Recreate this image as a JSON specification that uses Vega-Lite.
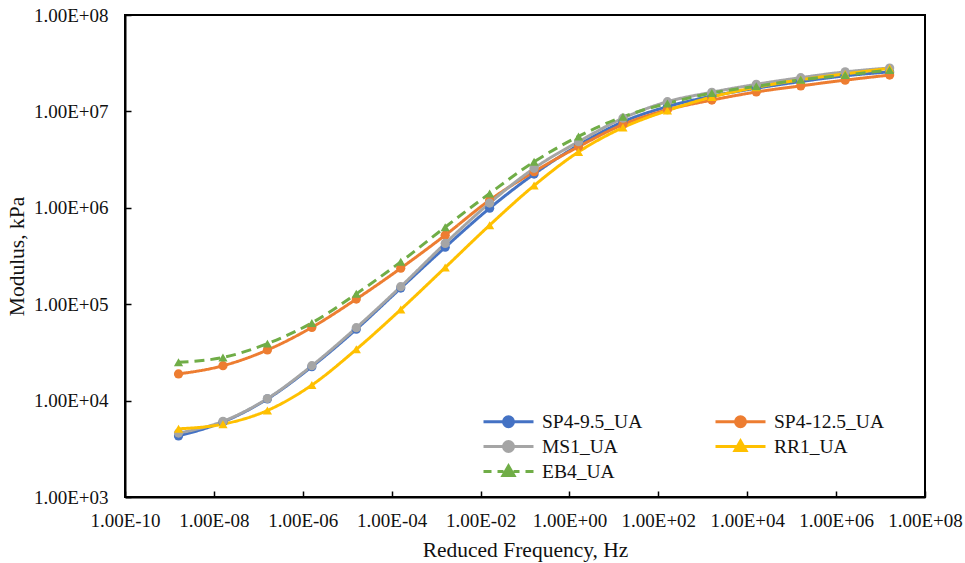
{
  "$schema": "https://vega.github.io/schema/vega-lite/v6.json",
  "width": 800,
  "height": 482,
  "autosize": "none",
  "padding": {"left": 125, "top": 15, "right": 40, "bottom": 66},
  "background": "white",
  "config": {
    "view": {"stroke": "#000000", "strokeWidth": 2},
    "font": "Liberation Serif",
    "axis": {
      "grid": false,
      "domainColor": "#000000",
      "domainWidth": 2,
      "tickColor": "#000000",
      "tickWidth": 1.5,
      "tickSize": -6,
      "labelFont": "Liberation Serif",
      "labelFontSize": 19,
      "labelColor": "#111111",
      "labelOverlap": false,
      "labelFlush": false,
      "titleFont": "Liberation Serif",
      "titleFontSize": 21.5,
      "titleFontWeight": "normal",
      "titleColor": "#111111"
    }
  },
  "data": {
    "values": [
      {"series": "SP4-9.5_UA", "freq": 1.6e-9, "modulus": 4300},
      {"series": "SP4-9.5_UA", "freq": 1.6e-8, "modulus": 6000},
      {"series": "SP4-9.5_UA", "freq": 1.6e-7, "modulus": 10400},
      {"series": "SP4-9.5_UA", "freq": 1.6e-6, "modulus": 22500},
      {"series": "SP4-9.5_UA", "freq": 1.6e-5, "modulus": 55000},
      {"series": "SP4-9.5_UA", "freq": 1.6e-4, "modulus": 147000},
      {"series": "SP4-9.5_UA", "freq": 1.6e-3, "modulus": 390000},
      {"series": "SP4-9.5_UA", "freq": 1.6e-2, "modulus": 990000},
      {"series": "SP4-9.5_UA", "freq": 1.6e-1, "modulus": 2240000},
      {"series": "SP4-9.5_UA", "freq": 1.6, "modulus": 4470000},
      {"series": "SP4-9.5_UA", "freq": 16, "modulus": 7800000},
      {"series": "SP4-9.5_UA", "freq": 160, "modulus": 11200000},
      {"series": "SP4-9.5_UA", "freq": 1600, "modulus": 14400000},
      {"series": "SP4-9.5_UA", "freq": 16000, "modulus": 17400000},
      {"series": "SP4-9.5_UA", "freq": 160000, "modulus": 20400000},
      {"series": "SP4-9.5_UA", "freq": 1.6e6, "modulus": 23400000},
      {"series": "SP4-9.5_UA", "freq": 1.6e7, "modulus": 25700000},

      {"series": "SP4-12.5_UA", "freq": 1.6e-9, "modulus": 18900},
      {"series": "SP4-12.5_UA", "freq": 1.6e-8, "modulus": 23000},
      {"series": "SP4-12.5_UA", "freq": 1.6e-7, "modulus": 33500},
      {"series": "SP4-12.5_UA", "freq": 1.6e-6, "modulus": 57500},
      {"series": "SP4-12.5_UA", "freq": 1.6e-5, "modulus": 113000},
      {"series": "SP4-12.5_UA", "freq": 1.6e-4, "modulus": 236000},
      {"series": "SP4-12.5_UA", "freq": 1.6e-3, "modulus": 520000},
      {"series": "SP4-12.5_UA", "freq": 1.6e-2, "modulus": 1200000},
      {"series": "SP4-12.5_UA", "freq": 1.6e-1, "modulus": 2370000},
      {"series": "SP4-12.5_UA", "freq": 1.6, "modulus": 4300000},
      {"series": "SP4-12.5_UA", "freq": 16, "modulus": 7300000},
      {"series": "SP4-12.5_UA", "freq": 160, "modulus": 10400000},
      {"series": "SP4-12.5_UA", "freq": 1600, "modulus": 13100000},
      {"series": "SP4-12.5_UA", "freq": 16000, "modulus": 15900000},
      {"series": "SP4-12.5_UA", "freq": 160000, "modulus": 18400000},
      {"series": "SP4-12.5_UA", "freq": 1.6e6, "modulus": 21100000},
      {"series": "SP4-12.5_UA", "freq": 1.6e7, "modulus": 23800000},

      {"series": "MS1_UA", "freq": 1.6e-9, "modulus": 4600},
      {"series": "MS1_UA", "freq": 1.6e-8, "modulus": 6100},
      {"series": "MS1_UA", "freq": 1.6e-7, "modulus": 10500},
      {"series": "MS1_UA", "freq": 1.6e-6, "modulus": 23000},
      {"series": "MS1_UA", "freq": 1.6e-5, "modulus": 57000},
      {"series": "MS1_UA", "freq": 1.6e-4, "modulus": 152000},
      {"series": "MS1_UA", "freq": 1.6e-3, "modulus": 427000},
      {"series": "MS1_UA", "freq": 1.6e-2, "modulus": 1120000},
      {"series": "MS1_UA", "freq": 1.6e-1, "modulus": 2570000},
      {"series": "MS1_UA", "freq": 1.6, "modulus": 4850000},
      {"series": "MS1_UA", "freq": 16, "modulus": 8500000},
      {"series": "MS1_UA", "freq": 160, "modulus": 12600000},
      {"series": "MS1_UA", "freq": 1600, "modulus": 15800000},
      {"series": "MS1_UA", "freq": 16000, "modulus": 19100000},
      {"series": "MS1_UA", "freq": 160000, "modulus": 22400000},
      {"series": "MS1_UA", "freq": 1.6e6, "modulus": 25700000},
      {"series": "MS1_UA", "freq": 1.6e7, "modulus": 28200000},

      {"series": "RR1_UA", "freq": 1.6e-9, "modulus": 5100},
      {"series": "RR1_UA", "freq": 1.6e-8, "modulus": 5700},
      {"series": "RR1_UA", "freq": 1.6e-7, "modulus": 7900},
      {"series": "RR1_UA", "freq": 1.6e-6, "modulus": 14500},
      {"series": "RR1_UA", "freq": 1.6e-5, "modulus": 34000},
      {"series": "RR1_UA", "freq": 1.6e-4, "modulus": 88000},
      {"series": "RR1_UA", "freq": 1.6e-3, "modulus": 240000},
      {"series": "RR1_UA", "freq": 1.6e-2, "modulus": 660000},
      {"series": "RR1_UA", "freq": 1.6e-1, "modulus": 1700000},
      {"series": "RR1_UA", "freq": 1.6, "modulus": 3800000},
      {"series": "RR1_UA", "freq": 16, "modulus": 6800000},
      {"series": "RR1_UA", "freq": 160, "modulus": 10200000},
      {"series": "RR1_UA", "freq": 1600, "modulus": 14100000},
      {"series": "RR1_UA", "freq": 16000, "modulus": 17800000},
      {"series": "RR1_UA", "freq": 160000, "modulus": 21300000},
      {"series": "RR1_UA", "freq": 1.6e6, "modulus": 24500000},
      {"series": "RR1_UA", "freq": 1.6e7, "modulus": 28000000},

      {"series": "EB4_UA", "freq": 1.6e-9, "modulus": 25000},
      {"series": "EB4_UA", "freq": 1.6e-8, "modulus": 28000},
      {"series": "EB4_UA", "freq": 1.6e-7, "modulus": 39000},
      {"series": "EB4_UA", "freq": 1.6e-6, "modulus": 64000},
      {"series": "EB4_UA", "freq": 1.6e-5, "modulus": 128000},
      {"series": "EB4_UA", "freq": 1.6e-4, "modulus": 275000},
      {"series": "EB4_UA", "freq": 1.6e-3, "modulus": 630000},
      {"series": "EB4_UA", "freq": 1.6e-2, "modulus": 1410000},
      {"series": "EB4_UA", "freq": 1.6e-1, "modulus": 3000000},
      {"series": "EB4_UA", "freq": 1.6, "modulus": 5500000},
      {"series": "EB4_UA", "freq": 16, "modulus": 8800000},
      {"series": "EB4_UA", "freq": 160, "modulus": 12100000},
      {"series": "EB4_UA", "freq": 1600, "modulus": 15500000},
      {"series": "EB4_UA", "freq": 16000, "modulus": 18200000},
      {"series": "EB4_UA", "freq": 160000, "modulus": 21300000},
      {"series": "EB4_UA", "freq": 1.6e6, "modulus": 23800000},
      {"series": "EB4_UA", "freq": 1.6e7, "modulus": 26900000}
    ]
  },
  "encoding": {
    "x": {
      "field": "freq",
      "type": "quantitative",
      "scale": {"type": "log", "domain": [1e-10, 1e8], "nice": false},
      "axis": {
        "title": "Reduced Frequency, Hz",
        "values": [1e-10, 1e-8, 1e-6, 1e-4, 1e-2, 1, 100, 10000, 1000000, 100000000],
        "labelExpr": "'1.00E' + (round(log(datum.value)/LN10) < 0 ? '-' : '+') + (abs(round(log(datum.value)/LN10)) < 10 ? '0' : '') + abs(round(log(datum.value)/LN10))",
        "labelPadding": 20,
        "titlePadding": 9
      }
    },
    "y": {
      "field": "modulus",
      "type": "quantitative",
      "scale": {"type": "log", "domain": [1000, 100000000], "nice": false},
      "axis": {
        "title": "Modulus, kPa",
        "values": [1000, 10000, 100000, 1000000, 10000000, 100000000],
        "labelExpr": "'1.00E' + (round(log(datum.value)/LN10) < 0 ? '-' : '+') + (abs(round(log(datum.value)/LN10)) < 10 ? '0' : '') + abs(round(log(datum.value)/LN10))",
        "labelPadding": 23,
        "titlePadding": 5
      }
    }
  },
  "layer": [
    {
      "mark": {"type": "line", "interpolate": "monotone", "strokeWidth": 3},
      "encoding": {
        "color": {
          "field": "series",
          "type": "nominal",
          "scale": {
            "domain": ["SP4-9.5_UA", "MS1_UA", "EB4_UA", "SP4-12.5_UA", "RR1_UA"],
            "range": ["#4472C4", "#A5A5A5", "#70AD47", "#ED7D31", "#FFC000"]
          },
          "legend": {
            "title": null,
            "orient": "none",
            "legendX": 372,
            "legendY": 395,
            "columns": 2,
            "columnPadding": 66,
            "rowPadding": 2,
            "padding": 0,
            "symbolSize": 400,
            "symbolStrokeWidth": 3,
            "labelOffset": 22,
            "labelFont": "Liberation Serif",
            "labelFontSize": 19.5,
            "labelColor": "#111111",
            "labelLimit": 200,
            "encode": {
              "symbols": {
                "update": {
                  "shape": {"signal": "datum.value === 'EB4_UA' ? 'M-2.5,0H-1.7M-1.1,0H-0.5M0.5,0H1.1M1.7,0H2.5M-0.55,0.4L0,-0.55L0.55,0.4Z' : (datum.value === 'RR1_UA' ? 'M-2.5,0H2.5M-0.55,0.4L0,-0.55L0.55,0.4Z' : 'M-2.5,0H-0.5A0.5,0.5 0 1,1 0.5,0H2.5M0.5,0A0.5,0.5 0 1,1 -0.5,0')"},
                  "fill": {"signal": "scale('color', datum.value)"},
                  "stroke": {"signal": "scale('color', datum.value)"},
                  "strokeWidth": {"value": 3},
                  "strokeDash": {"value": []},
                  "opacity": {"value": 1}
                }
              }
            }
          }
        },
        "strokeDash": {
          "field": "series",
          "type": "nominal",
          "scale": {
            "domain": ["SP4-9.5_UA", "SP4-12.5_UA", "MS1_UA", "RR1_UA", "EB4_UA"],
            "range": [[1, 0], [1, 0], [1, 0], [1, 0], [10, 6]]
          },
          "legend": null
        }
      }
    },
    {
      "mark": {"type": "point", "filled": true, "opacity": 1, "size": 85},
      "encoding": {
        "color": {"field": "series", "type": "nominal", "legend": null},
        "shape": {
          "field": "series",
          "type": "nominal",
          "scale": {
            "domain": ["SP4-9.5_UA", "SP4-12.5_UA", "MS1_UA", "RR1_UA", "EB4_UA"],
            "range": ["circle", "circle", "circle", "triangle-up", "triangle-up"]
          },
          "legend": null
        }
      }
    }
  ]
}
